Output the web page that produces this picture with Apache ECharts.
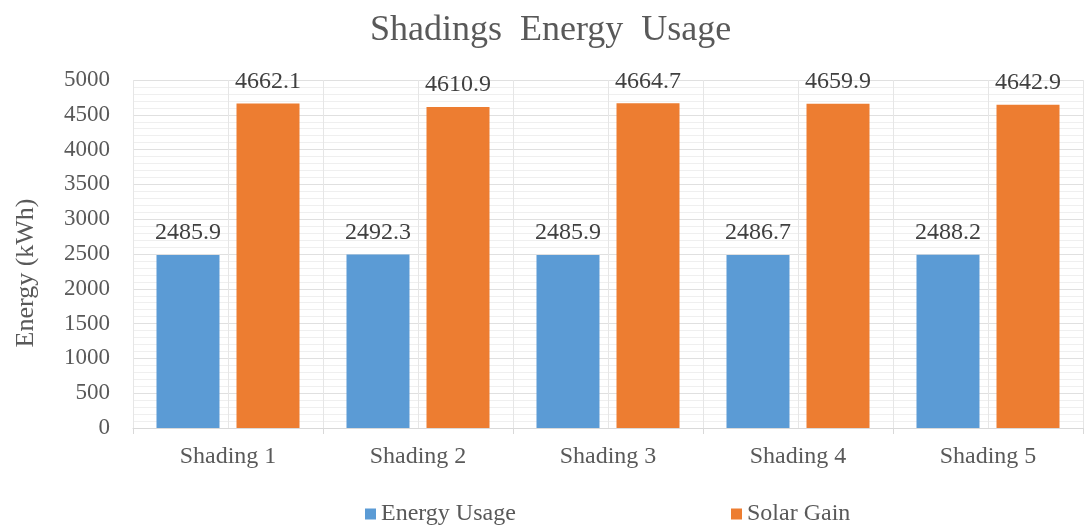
<!DOCTYPE html>
<html>
<head>
<meta charset="utf-8">
<script src="https://cdn.jsdelivr.net/npm/echarts@6/dist/echarts.min.js"></script>
<style>
  html, body { margin: 0; padding: 0; background: #fff; }
  #chart { width: 1085px; height: 528px; }
</style>
</head>
<body>
<div id="chart"></div>
<script>
// Shading options and their simulated annual totals (kWh)
const categories = ['Shading 1', 'Shading 2', 'Shading 3', 'Shading 4', 'Shading 5'];
const energyUsage = [2485.9, 2492.3, 2485.9, 2486.7, 2488.2];
const solarGain = [4662.1, 4610.9, 4664.7, 4659.9, 4642.9];
const yTicks = [0, 500, 1000, 1500, 2000, 2500, 3000, 3500, 4000, 4500, 5000];

const FONT = '"Liberation Serif", "Times New Roman", serif';
const TEXT = '#595959';

const chart = echarts.init(document.getElementById('chart'), null, { renderer: 'canvas' });

const labelStyle = {
  show: true,
  position: 'top',
  distance: 10,
  fontFamily: FONT,
  fontSize: 24,
  color: '#404040',
  formatter: p => p.value.toFixed(1)
};

chart.setOption({
  animation: false,
  title: {
    text: 'Shadings  Energy  Usage',
    left: 365,
    top: 8,
    textStyle: { fontFamily: FONT, fontSize: 36, fontWeight: 'normal', color: TEXT }
  },
  graphic: [
    {
      type: 'text',
      x: 26, y: 273,
      rotation: Math.PI / 2,
      style: {
        text: 'Energy (kWh)',
        font: '26px ' + FONT,
        fill: TEXT,
        textAlign: 'center',
        textVerticalAlign: 'middle'
      }
    }
  ],
  legend: [
    {
      data: ['Energy Usage'],
      left: 360, top: 497,
      icon: 'rect', itemWidth: 11, itemHeight: 11, itemGap: 6,
      textStyle: { fontFamily: FONT, fontSize: 24, color: TEXT }
    },
    {
      data: ['Solar Gain'],
      left: 726, top: 497,
      icon: 'rect', itemWidth: 11, itemHeight: 11, itemGap: 6,
      textStyle: { fontFamily: FONT, fontSize: 24, color: TEXT }
    }
  ],
  grid: { left: 133, right: 2, top: 80, bottom: 100, containLabel: false },
  xAxis: [
    {
      type: 'category',
      data: categories,
      axisLine: { lineStyle: { color: '#d9d9d9', width: 1 } },
      axisTick: { show: true, length: 6, lineStyle: { color: '#d9d9d9' } },
      axisLabel: { fontFamily: FONT, fontSize: 24, color: TEXT, margin: 17 },
      splitLine: { show: false }
    },
    {
      // helper axis that draws the vertical gridlines every half category
      type: 'value',
      min: 0, max: categories.length, interval: 0.5,
      position: 'bottom',
      axisLine: { show: false }, axisTick: { show: false }, axisLabel: { show: false },
      splitLine: { show: true, lineStyle: { color: '#e6e6e6', width: 1 } }
    }
  ],
  yAxis: {
    type: 'value',
    min: yTicks[0], max: yTicks[yTicks.length - 1], interval: 500,
    axisLine: { show: false },
    axisTick: { show: false },
    axisLabel: {
      fontFamily: FONT, fontSize: 23, color: TEXT, margin: 23,
      formatter: v => String(v)
    },
    splitLine: { lineStyle: { color: '#e0e0e0', width: 1 } },
    minorTick: { show: false, splitNumber: 5 },
    minorSplitLine: { show: true, lineStyle: { color: '#efefef', width: 1 } }
  },
  series: [
    {
      name: 'Energy Usage',
      type: 'bar',
      data: energyUsage,
      barWidth: 63,
      barGap: '27%',
      itemStyle: { color: '#5b9bd5' },
      label: labelStyle,
      z: 3
    },
    {
      name: 'Solar Gain',
      type: 'bar',
      data: solarGain,
      barWidth: 63,
      barGap: '27%',
      itemStyle: { color: '#ed7d31' },
      label: labelStyle,
      z: 3
    }
  ]
});
</script>
</body>
</html>
